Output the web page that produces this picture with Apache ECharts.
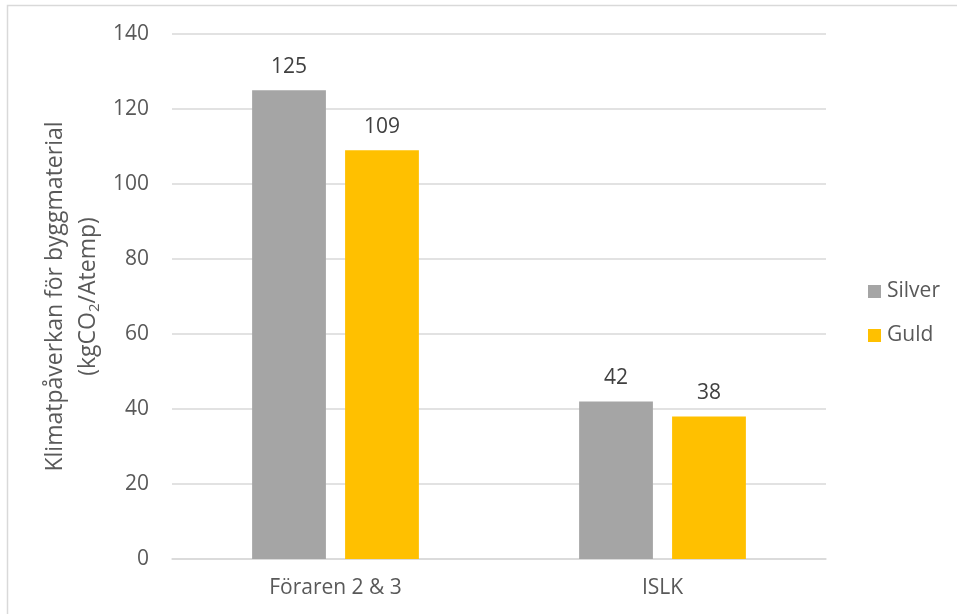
<!DOCTYPE html>
<html>
<head>
<meta charset="utf-8">
<script src="https://cdn.jsdelivr.net/npm/echarts@6/dist/echarts.min.js"></script>
<style>
  html, body { margin: 0; padding: 0; background: #fff; }
  #chart { width: 957px; height: 614px; }
</style>
</head>
<body>
<div id="chart"></div>
<script>
// Categories and series values
const categories = ['Föraren 2 & 3', 'ISLK'];
const silverValues = [125, 42];
const guldValues = [109, 38];
const seriesNames = ['Silver', 'Guld'];
const yTicks = { min: 0, max: 140, interval: 20 };

const FONT = '"Open Sans", "Liberation Sans", sans-serif';
const AXIS_TEXT = '#595959';

const chart = echarts.init(document.getElementById('chart'), null, { renderer: 'canvas' });

const labelStyle = {
  show: true,
  position: 'top',
  distance: 13,
  color: '#404040',
  fontFamily: FONT,
  fontSize: 21
};

chart.setOption({
  animation: false,
  backgroundColor: '#ffffff',
  textStyle: { fontFamily: FONT },
  graphic: [{
    type: 'rect',
    shape: { x: 7.5, y: 5.5, width: 1200, height: 1200 },
    style: { fill: 'none', stroke: '#D9D9D9', lineWidth: 1.5 },
    silent: true
  }],
  grid: { left: 172, right: 131, top: 34, bottom: 55, containLabel: false },
  legend: {
    orient: 'vertical',
    left: 863,
    top: 276,
    icon: 'rect',
    itemWidth: 13,
    itemHeight: 13,
    itemGap: 23,
    data: seriesNames,
    textStyle: { color: AXIS_TEXT, fontFamily: FONT, fontSize: 21, padding: [0, 0, 0, 1] }
  },
  xAxis: {
    type: 'category',
    data: categories,
    axisLine: { show: true, lineStyle: { color: '#D9D9D9', width: 1.5 } },
    axisTick: { show: false },
    axisLabel: { color: AXIS_TEXT, fontFamily: FONT, fontSize: 21, margin: 19 }
  },
  yAxis: {
    type: 'value',
    min: yTicks.min,
    max: yTicks.max,
    interval: yTicks.interval,
    axisLine: { show: false },
    axisTick: { show: false },
    splitLine: { lineStyle: { color: '#D9D9D9', width: 1.5 } },
    axisLabel: { color: AXIS_TEXT, fontFamily: FONT, fontSize: 21, margin: 23 },
    name: '{t|Klimatpåverkan för byggmaterial}\n{t|(kgCO}{s|2}{t|/Atemp)}',
    nameLocation: 'middle',
    nameRotate: 90,
    nameGap: 66,
    nameTextStyle: {
      color: AXIS_TEXT,
      fontFamily: FONT,
      align: 'center',
      rich: {
        t: { fontSize: 23, lineHeight: 33, color: AXIS_TEXT, fontFamily: FONT },
        s: { fontSize: 15, lineHeight: 33, color: AXIS_TEXT, fontFamily: FONT, padding: [12, 0, 0, 0] }
      }
    }
  },
  series: [
    {
      name: seriesNames[0],
      type: 'bar',
      data: silverValues,
      itemStyle: { color: '#A5A5A5' },
      barGap: '26%',
      barCategoryGap: '49%',
      label: labelStyle
    },
    {
      name: seriesNames[1],
      type: 'bar',
      data: guldValues,
      itemStyle: { color: '#FFC000' },
      barGap: '26%',
      barCategoryGap: '49%',
      label: labelStyle
    }
  ]
});
</script>
</body>
</html>
